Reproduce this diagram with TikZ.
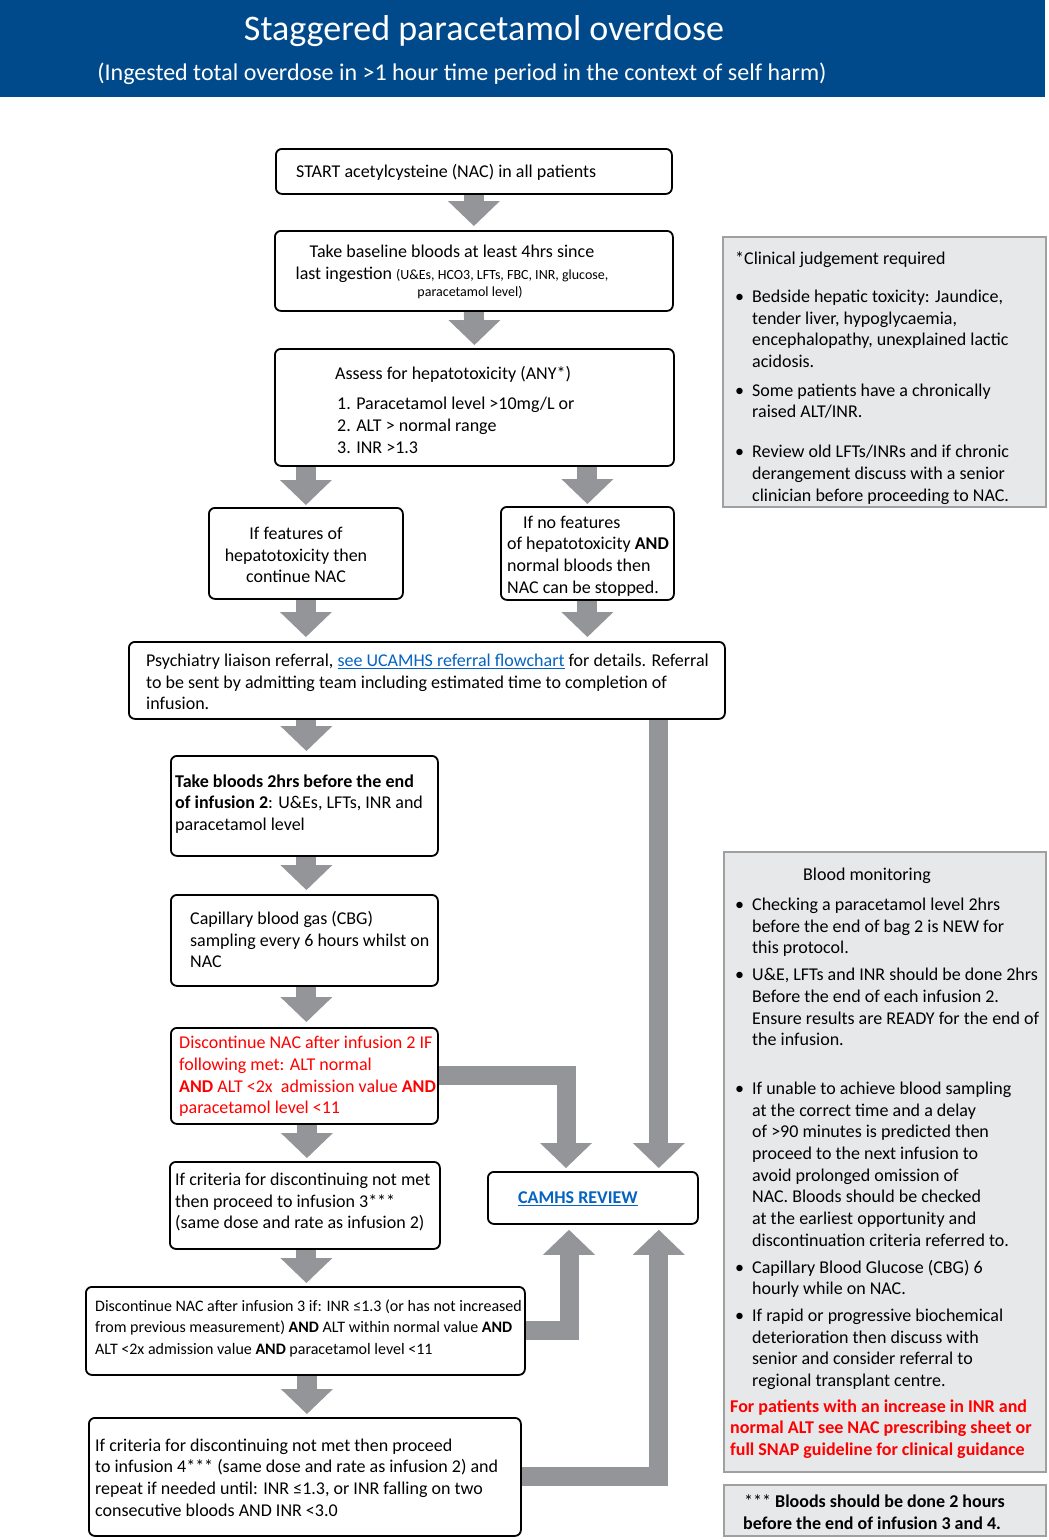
\documentclass[tikz,border=0pt]{standalone}
\usepackage{fontspec}
\setmainfont{Carlito}
\usetikzlibrary{calc,backgrounds}
\definecolor{headerblue}{RGB}{0,74,140}
\definecolor{arrowgrey}{RGB}{147,149,152}
\definecolor{greyfill}{RGB}{231,232,234}
\definecolor{greyborder}{RGB}{160,160,160}
\definecolor{linkblue}{RGB}{5,99,193}
\definecolor{alertred}{RGB}{255,0,0}
\newcommand\bodyfont{\fontsize{18}{21.7}\selectfont}
\newcommand\smallfnt{\fontsize{14}{17}\selectfont}
\newcommand\bl{\makebox[17pt][l]{•}}
\newcommand\ind{\hspace*{17pt}}
\newcommand\headdown[1]{\fill[arrowgrey] (#1) -- ++(-26,-25) -- ++(52,0) -- cycle;}
\newcommand\headup[1]{\fill[arrowgrey] (#1) -- ++(-26,25) -- ++(52,0) -- cycle;}
\tikzset{
  box/.style={draw=black, line width=1.8pt, rounded corners=6pt, fill=white, anchor=north west, inner sep=0pt},
  greybox/.style={draw=greyborder, line width=1.5pt, fill=greyfill, anchor=north west, inner sep=0pt},
  tx/.style={anchor=west, align=left, inner sep=0pt, font=\bodyfont},
  shaft/.style={draw=arrowgrey, line width=20pt, line cap=butt, line join=miter, shorten >=24pt},
  elbow/.style={shaft, line width=19pt},
}
\begin{document}
\begin{tikzpicture}[x=1pt,y=-1pt]
\useasboundingbox (0,0) rectangle (1049,1540);
% header
\node[fill=headerblue, anchor=north west, minimum width=1045pt, minimum height=97pt, inner sep=0pt] (header) at (0,0) {};
\node[font=\fontsize{36}{40}\selectfont, text=white, inner sep=0pt] (title) at (484,31) {Staggered paracetamol overdose};
\node[font=\fontsize{24}{27}\selectfont, text=white, inner sep=0pt] (subtitle) at (462,74) {(Ingested total overdose in >1 hour time period in the context of self harm)};

% boxes
\node[box, minimum width=396pt, minimum height=45pt] (start) at (275,148) {};
\node[box, minimum width=398pt, minimum height=80pt] (base) at (274,230) {};
\node[box, minimum width=399pt, minimum height=117pt] (assess) at (274,348) {};
\node[box, minimum width=194pt, minimum height=91pt] (feat) at (208,507) {};
\node[box, minimum width=173pt, minimum height=93pt] (nofeat) at (500,506) {};
\node[box, minimum width=596pt, minimum height=77pt] (psych) at (128,641) {};
\node[box, minimum width=267pt, minimum height=100pt] (blood2) at (170,755) {};
\node[box, minimum width=267pt, minimum height=91pt] (cbg) at (170,894) {};
\node[box, minimum width=267pt, minimum height=96pt] (disc2) at (170,1027) {};
\node[box, minimum width=270pt, minimum height=87pt] (crit3) at (169,1161) {};
\node[box, minimum width=210pt, minimum height=52pt] (camhs) at (487,1171) {};
\node[box, minimum width=439pt, minimum height=88pt] (disc3) at (85,1286) {};
\node[box, minimum width=432pt, minimum height=118pt] (crit4) at (88,1417) {};
\node[greybox, minimum width=323pt, minimum height=270pt] (grey1) at (722,236) {};
\node[greybox, minimum width=322pt, minimum height=620pt] (grey2) at (723,851) {};
\node[greybox, minimum width=322pt, minimum height=51pt] (grey3) at (723,1484) {};

% texts
\node[tx] (tstart) at (296,172) {START acetylcysteine (NAC) in all patients};
\node[tx, align=center, anchor=center] (tbase) at (452,272) {Take baseline bloods at least 4hrs since\\ last ingestion {\smallfnt (U\&Es, HCO3, LFTs, FBC, INR, glucose,}\\[-4pt] \hspace*{36pt}{\smallfnt paracetamol level)}};
\node[tx] (tassess) at (335,410) {Assess for hepatotoxicity (ANY*)\\[8pt] \hspace*{2pt}1. Paracetamol level >10mg/L or\\ \hspace*{2pt}2. ALT > normal range\\ \hspace*{2pt}3. INR >1.3};
\node[tx, align=center, anchor=center] (tfeat) at (296,555) {If features of\\ hepatotoxicity then\\ continue NAC};
\node[tx] (tnofeat) at (507,556) {\hspace*{16pt}If no features\\ of hepatotoxicity \textbf{AND}\\ normal bloods then\\ NAC can be stopped.};
\node[tx] (tpsych) at (146,682) {Psychiatry liaison referral, \textcolor{linkblue}{\underline{see UCAMHS referral flowchart}} for details. Referral\\ to be sent by admitting team including estimated time to completion of\\ infusion.};
\node[tx] (tblood2) at (175,804) {\textbf{Take bloods 2hrs before the end}\\ \textbf{of infusion 2}: U\&Es, LFTs, INR and\\ paracetamol level};
\node[tx] (tcbg) at (190,939.5) {Capillary blood gas (CBG)\\ sampling every 6 hours whilst on\\ NAC};
\node[tx, text=alertred] (tdisc2) at (179,1076.5) {Discontinue NAC after infusion 2 IF\\ following met: ALT normal\\ \textbf{AND} ALT <2x\ \ admission value \textbf{AND}\\ paracetamol level <11};
\node[tx] (tcrit3) at (175,1202) {If criteria for discontinuing not met\\ then proceed to infusion 3***\\ (same dose and rate as infusion 2)};
\node[tx, text=linkblue] (tcamhs) at (518,1199) {\textbf{\underline{CAMHS REVIEW}}};
\node[tx, font=\fontsize{16}{21.5}\selectfont] (tdisc3) at (95,1328) {Discontinue NAC after infusion 3 if: INR ≤1.3 (or has not increased\\ from previous measurement) \textbf{AND} ALT within normal value \textbf{AND}\\ ALT <2x admission value \textbf{AND} paracetamol level <11};
\node[tx] (tcrit4) at (95,1477.5) {If criteria for discontinuing not met then proceed\\ to infusion 4*** (same dose and rate as infusion 2) and\\ repeat if needed until: INR ≤1.3, or INR falling on two\\ consecutive bloods AND INR <3.0};

\node[tx] (tg1) at (735,378) {*Clinical judgement required\\[16pt]
\bl Bedside hepatic toxicity: Jaundice,\\ \ind tender liver, hypoglycaemia,\\ \ind encephalopathy, unexplained lactic\\ \ind acidosis.\\[7pt]
\bl Some patients have a chronically\\ \ind raised ALT/INR.\\[18pt]
\bl Review old LFTs/INRs and if chronic\\ \ind derangement discuss with a senior\\ \ind clinician before proceeding to NAC.};

\node[tx] (tg2) at (730,1163.5) {\hspace*{73pt}Blood monitoring\\[8pt]
\hspace*{5pt}\bl Checking a paracetamol level 2hrs\\ \hspace*{5pt}\ind before the end of bag 2 is NEW for\\ \hspace*{5pt}\ind this protocol.\\[5pt]
\hspace*{5pt}\bl U\&E, LFTs and INR should be done 2hrs\\ \hspace*{5pt}\ind Before the end of each infusion 2.\\ \hspace*{5pt}\ind Ensure results are READY for the end of\\ \hspace*{5pt}\ind the infusion.\\[27pt]
\hspace*{5pt}\bl If unable to achieve blood sampling\\ \hspace*{5pt}\ind at the correct time and a delay\\ \hspace*{5pt}\ind of >90 minutes is predicted then\\ \hspace*{5pt}\ind proceed to the next infusion to\\ \hspace*{5pt}\ind avoid prolonged omission of\\ \hspace*{5pt}\ind NAC. Bloods should be checked\\ \hspace*{5pt}\ind at the earliest opportunity and\\ \hspace*{5pt}\ind discontinuation criteria referred to.\\[5pt]
\hspace*{5pt}\bl Capillary Blood Glucose (CBG) 6\\ \hspace*{5pt}\ind hourly while on NAC.\\[5pt]
\hspace*{5pt}\bl If rapid or progressive biochemical\\ \hspace*{5pt}\ind deterioration then discuss with\\ \hspace*{5pt}\ind senior and consider referral to\\ \hspace*{5pt}\ind regional transplant centre.\\[4pt]
\textcolor{alertred}{\textbf{For patients with an increase in INR and}}\\ \textcolor{alertred}{\textbf{normal ALT see NAC prescribing sheet or}}\\ \textcolor{alertred}{\textbf{full SNAP guideline for clinical guidance}}};

\node[tx] (tg3) at (743,1512) {\hspace*{1pt}*** \textbf{Bloods should be done 2 hours}\\ \textbf{before the end of infusion 3 and 4.}};

% arrows
\begin{pgfonlayer}{background}
\coordinate (t1) at ($(base.north)+(0,-4)$);
\draw[shaft] (start.south) -- (t1); \headdown{t1}
\coordinate (t2) at ($(assess.north)+(0,-3)$);
\draw[shaft] (base.south) -- (t2); \headdown{t2}
\coordinate (t3) at ($(feat.north)+(0,-2)$);
\draw[shaft] (assess.south -| feat.north) -- (t3); \headdown{t3}
\coordinate (t4) at ($(nofeat.north)+(0,-2)$);
\draw[shaft] (assess.south -| nofeat.north) -- (t4); \headdown{t4}
\coordinate (t5) at ($(feat.south |- psych.north)+(0,-4)$);
\draw[shaft] (feat.south) -- (t5); \headdown{t5}
\coordinate (t6) at ($(nofeat.south |- psych.north)+(0,-4)$);
\draw[shaft] (nofeat.south) -- (t6); \headdown{t6}
\coordinate (t7) at ($(blood2.north)+(2,-4)$);
\draw[shaft] (psych.south -| t7) -- (t7); \headdown{t7}
\coordinate (t8) at ($(cbg.north)+(2,-4)$);
\draw[shaft] (blood2.south -| t8) -- (t8); \headdown{t8}
\coordinate (t9) at ($(disc2.north)+(2,-5)$);
\draw[shaft] (cbg.south -| t9) -- (t9); \headdown{t9}
\coordinate (t10) at ($(crit3.north)+(2,-3)$);
\draw[shaft] (disc2.south -| t10) -- (t10); \headdown{t10}
\coordinate (t11) at ($(disc3.north)+(1,-3)$);
\draw[shaft] (crit3.south -| t11) -- (t11); \headdown{t11}
\coordinate (t12) at ($(crit4.north)+(2,-3)$);
\draw[shaft] (disc3.south -| t12) -- (t12); \headdown{t12}
% long arrow to CAMHS
\coordinate (tlong) at ($(camhs.north east)+(-40,-3)$);
\draw[elbow] (psych.south -| tlong) -- (tlong); \headdown{tlong}
% elbow from infusion-2 discontinue box
\coordinate (tel) at ($(camhs.north west)+(79,-3)$);
\draw[elbow] (disc2.east) -| (tel); \headdown{tel}
% up arrows
\coordinate (tu1) at ($(camhs.south west)+(82,5)$);
\draw[elbow] (disc3.east) -| (tu1); \headup{tu1}
\coordinate (tu2) at ($(camhs.south east)+(-40,5)$);
\draw[elbow] (crit4.east) -| (tu2); \headup{tu2}
\end{pgfonlayer}
\end{tikzpicture}
\end{document}
